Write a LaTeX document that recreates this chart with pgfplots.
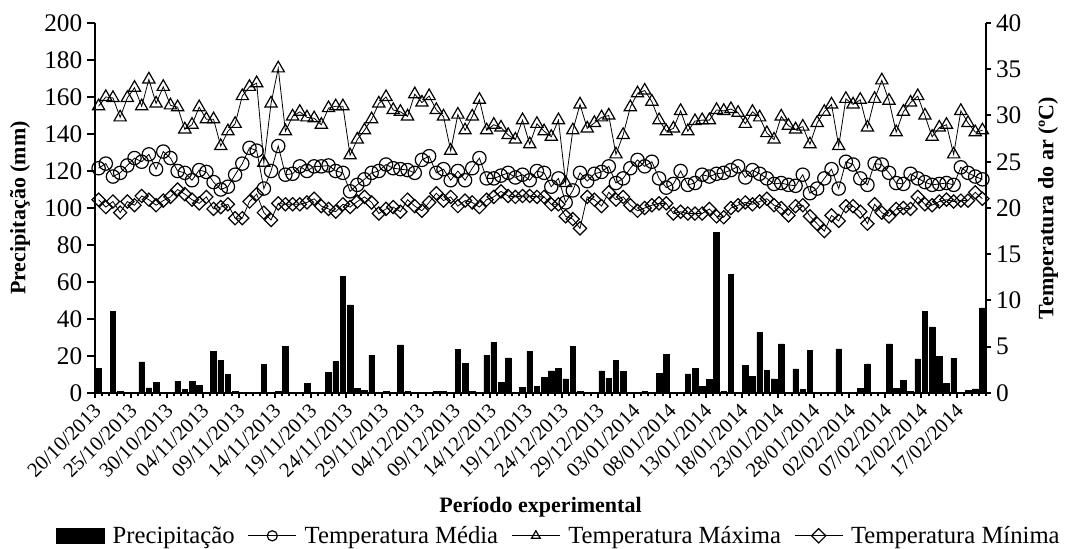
\documentclass[border=0pt]{standalone}
\usepackage{pgfplots}
\usepackage{pgfplotstable}
\pgfplotsset{compat=1.18}
\usepackage{fontspec}
\setmainfont{Liberation Serif}

\newcommand{\ticksize}{\fontsize{19}{21}\selectfont}
\newcommand{\datesize}{\fontsize{15.5}{17}\selectfont}
\newcommand{\titlesize}{\fontsize{16.5}{18}\selectfont\bfseries}

% dia  precipitacao  Tmedia  Tmaxima  Tminima
\pgfplotstableread{
d P Tmed Tmax Tmin
0 13.5 24.3 31.0 20.9
1 0.5 24.8 32.0 20.1
2 44.0 23.4 31.9 20.7
3 1.0 23.8 29.8 19.5
4 0.0 24.6 31.9 20.7
5 0.0 25.4 33.0 20.3
6 16.8 25.0 31.0 21.3
7 2.7 25.8 33.9 20.9
8 5.8 24.2 31.3 20.3
9 0.0 26.1 33.1 20.8
10 0.0 25.4 31.1 21.2
11 6.3 24.0 30.9 22.0
12 2.0 23.8 28.5 21.5
13 6.3 23.0 29.0 20.9
14 4.1 24.1 30.9 20.5
15 0.0 23.9 29.6 21.2
16 22.3 22.8 29.6 19.9
17 17.5 22.0 26.7 20.1
18 10.0 22.3 28.3 20.4
19 1.0 23.6 29.1 18.9
20 0.3 24.8 32.1 18.9
21 0.0 26.5 33.1 20.7
22 0.0 26.2 33.5 21.5
23 15.3 22.1 24.9 19.5
24 0.5 24.0 31.3 18.7
25 1.0 26.7 35.1 20.5
26 25.4 23.6 28.3 20.4
27 0.5 23.7 29.9 20.4
28 0.3 24.5 30.4 20.4
29 5.2 24.0 29.8 20.6
30 0.3 24.5 29.7 21.0
31 0.0 24.5 29.0 20.2
32 11.2 24.6 30.8 19.9
33 17.0 24.0 31.0 19.6
34 62.9 23.8 31.0 20.4
35 47.6 21.8 25.7 20.1
36 2.5 22.5 27.4 20.7
37 1.3 23.1 28.4 21.2
38 20.5 23.8 29.6 20.6
39 0.5 24.0 31.3 19.4
40 1.0 24.7 32.0 19.9
41 0.5 24.3 30.6 20.1
42 26.0 24.2 30.4 19.6
43 1.0 24.1 29.9 20.9
44 0.3 23.8 32.3 20.2
45 0.3 25.2 31.4 19.7
46 0.0 25.6 32.1 20.6
47 0.8 23.8 30.6 21.6
48 0.8 24.2 29.9 20.8
49 0.5 23.0 26.2 21.2
50 23.6 24.0 30.1 20.2
51 16.0 23.0 28.4 20.8
52 1.0 24.3 29.9 20.6
53 0.3 25.4 31.7 20.1
54 20.4 23.2 28.4 20.9
55 27.2 23.2 29.0 21.2
56 5.8 23.5 28.7 21.8
57 19.0 23.8 27.9 21.3
58 0.3 23.3 27.4 21.2
59 3.2 23.6 29.5 21.3
60 22.5 23.0 26.9 21.3
61 3.4 24.0 29.1 21.2
62 8.5 23.8 28.3 21.2
63 12.0 22.3 27.7 20.4
64 13.5 23.2 29.5 20.4
65 7.6 20.6 22.7 19.1
66 25.4 21.9 28.4 18.8
67 1.0 23.8 31.2 17.8
68 0.5 22.9 28.6 21.2
69 0.0 23.7 29.2 20.9
70 12.0 23.9 29.8 20.2
71 8.1 24.5 30.0 21.7
72 17.8 22.7 25.8 20.9
73 11.7 23.2 27.9 21.2
74 0.0 24.3 30.9 20.3
75 0.0 25.2 32.4 19.7
76 0.8 24.5 32.7 20.0
77 0.0 25.0 31.5 20.3
78 10.6 23.2 29.5 20.5
79 20.7 22.2 28.3 20.5
80 0.0 22.6 28.6 19.4
81 0.5 24.0 30.5 19.6
82 10.3 22.5 28.3 19.4
83 13.5 22.7 29.4 19.4
84 3.6 23.6 29.5 19.4
85 7.4 23.4 29.5 19.9
86 86.8 23.7 30.6 19.1
87 1.0 23.8 30.5 19.0
88 64.3 24.1 30.7 20.0
89 0.0 24.5 30.3 20.3
90 15.1 23.3 29.1 20.6
91 9.0 24.1 30.4 20.4
92 32.8 23.7 29.8 20.7
93 12.2 23.2 28.1 21.0
94 7.6 22.6 27.4 20.3
95 26.5 22.7 29.9 20.0
96 0.5 22.5 28.9 19.2
97 13.0 22.4 28.5 20.2
98 1.8 23.6 28.8 20.3
99 22.9 21.6 26.9 19.1
100 0.5 22.1 29.2 18.3
101 0.5 23.2 30.4 17.5
102 0.5 24.2 31.2 19.2
103 23.8 22.1 26.7 18.6
104 0.0 25.0 31.8 20.2
105 0.0 24.7 31.2 20.2
106 2.3 23.2 31.7 19.6
107 15.7 22.5 28.7 18.3
108 0.0 24.8 31.8 20.4
109 0.0 24.7 33.8 19.5
110 26.5 23.8 31.6 19.1
111 2.5 22.7 28.2 19.9
112 6.7 22.6 30.4 20.0
113 0.9 23.7 31.4 19.9
114 18.4 23.2 32.1 21.2
115 44.0 22.8 30.0 20.4
116 35.7 22.5 27.7 20.3
117 19.6 22.6 28.7 20.7
118 5.4 22.7 29.0 20.9
119 18.7 22.5 25.8 20.7
120 0.0 24.4 30.5 20.8
121 1.3 23.8 29.2 20.8
122 2.2 23.4 28.2 21.7
123 46.0 23.1 28.4 21.0
}\clima

\pgfplotsset{
  base/.style={
    at={(71.25pt,117pt)}, anchor=south west,
    scale only axis, width=668.25pt, height=277.5pt,
    xmin=-0.5, xmax=123.5,
    clip=false,
    axis line style={line width=1.5pt},
    tick align=outside,
    tick label style={font=\ticksize},
    /pgf/number format/assume math mode=true,
  },
}

\begin{document}
\begin{tikzpicture}
\path[use as bounding box] (0,0) rectangle (801pt,411.75pt);

% eixo da precipitacao
\begin{axis}[base,
  ymin=0, ymax=200,
  axis x line*=bottom, axis y line*=left,
  ytick={0,20,...,200},
  y tick style={line width=1.5pt, black},
  major tick length=6pt,
  xtick={0,5,...,120},
  major x tick style={draw=none},
  xticklabels={20/10/2013,25/10/2013,30/10/2013,04/11/2013,09/11/2013,14/11/2013,19/11/2013,24/11/2013,29/11/2013,04/12/2013,09/12/2013,14/12/2013,19/12/2013,24/12/2013,29/12/2013,03/01/2014,08/01/2014,13/01/2014,18/01/2014,23/01/2014,28/01/2014,02/02/2014,07/02/2014,12/02/2014,17/02/2014},
  xticklabel style={font=\datesize, rotate=45, anchor=east, inner sep=1pt},
  xticklabel shift=4pt,
  minor xtick={-0.5,0.5,...,123.5},
  minor x tick style={line width=1.5pt, black},
  minor tick length=2.5pt,
  xlabel={Período experimental},
  xlabel style={font=\titlesize, at={(axis description cs:0.5,-0.308)}, anchor=center},
  ylabel={Precipitação (mm)},
  ylabel style={font=\titlesize, at={(axis description cs:-0.084,0.5)}, anchor=center},
]
\addplot[ybar, bar width=0.78, fill=black, draw=black] table[x=d, y=P] {\clima};
\end{axis}

% eixo das temperaturas
\begin{axis}[base,
  ymin=0, ymax=40,
  axis x line*=bottom, axis y line*=right,
  ytick={0,5,...,40},
  y tick style={line width=1.5pt, black},
  major tick length=4pt,
  xtick={-0.5,4.5,...,119.5},
  xticklabels={},
  x tick style={line width=1.5pt, black},
  ylabel={Temperatura do ar (ºC)},
  ylabel style={font=\titlesize, at={(axis description cs:1.0696,0.5)}, anchor=center},
  legend columns=4,
  legend style={at={(axis description cs:0.521,-0.386)}, anchor=center, draw=none,
    font=\fontsize{18.5}{20}\selectfont, inner sep=0pt,
    /tikz/every odd column/.append style={column sep=4pt},
    /tikz/every even column/.append style={column sep=8pt}},
  legend image code/.code={\draw[mark repeat=2,mark phase=2,#1] plot coordinates {(0pt,0pt) (18pt,0pt) (36pt,0pt)};},
  legend image post style={mark size=3.8pt},
]
\addlegendimage{legend image code/.code={\fill[black] (0pt,-5.5pt) rectangle (36pt,5.5pt);}}
\addlegendentry{Precipitação}
\addplot[black, line width=0.6pt, mark=o, mark size=5pt, mark options={solid, line width=0.9pt, fill=none}]
  table[x=d, y=Tmed] {\clima};
\addlegendentry{Temperatura Média}
\addplot[black, line width=0.6pt, mark=triangle, mark size=5.3pt, mark options={solid, line width=0.9pt, fill=none}]
  table[x=d, y=Tmax] {\clima};
\addlegendentry{Temperatura Máxima}
\addplot[black, line width=0.6pt, mark=square, mark size=3.5pt, mark options={solid, rotate=45, line width=0.9pt, fill=none}]
  table[x=d, y=Tmin] {\clima};
\addlegendentry{Temperatura Mínima}
\end{axis}
\end{tikzpicture}
\end{document}
